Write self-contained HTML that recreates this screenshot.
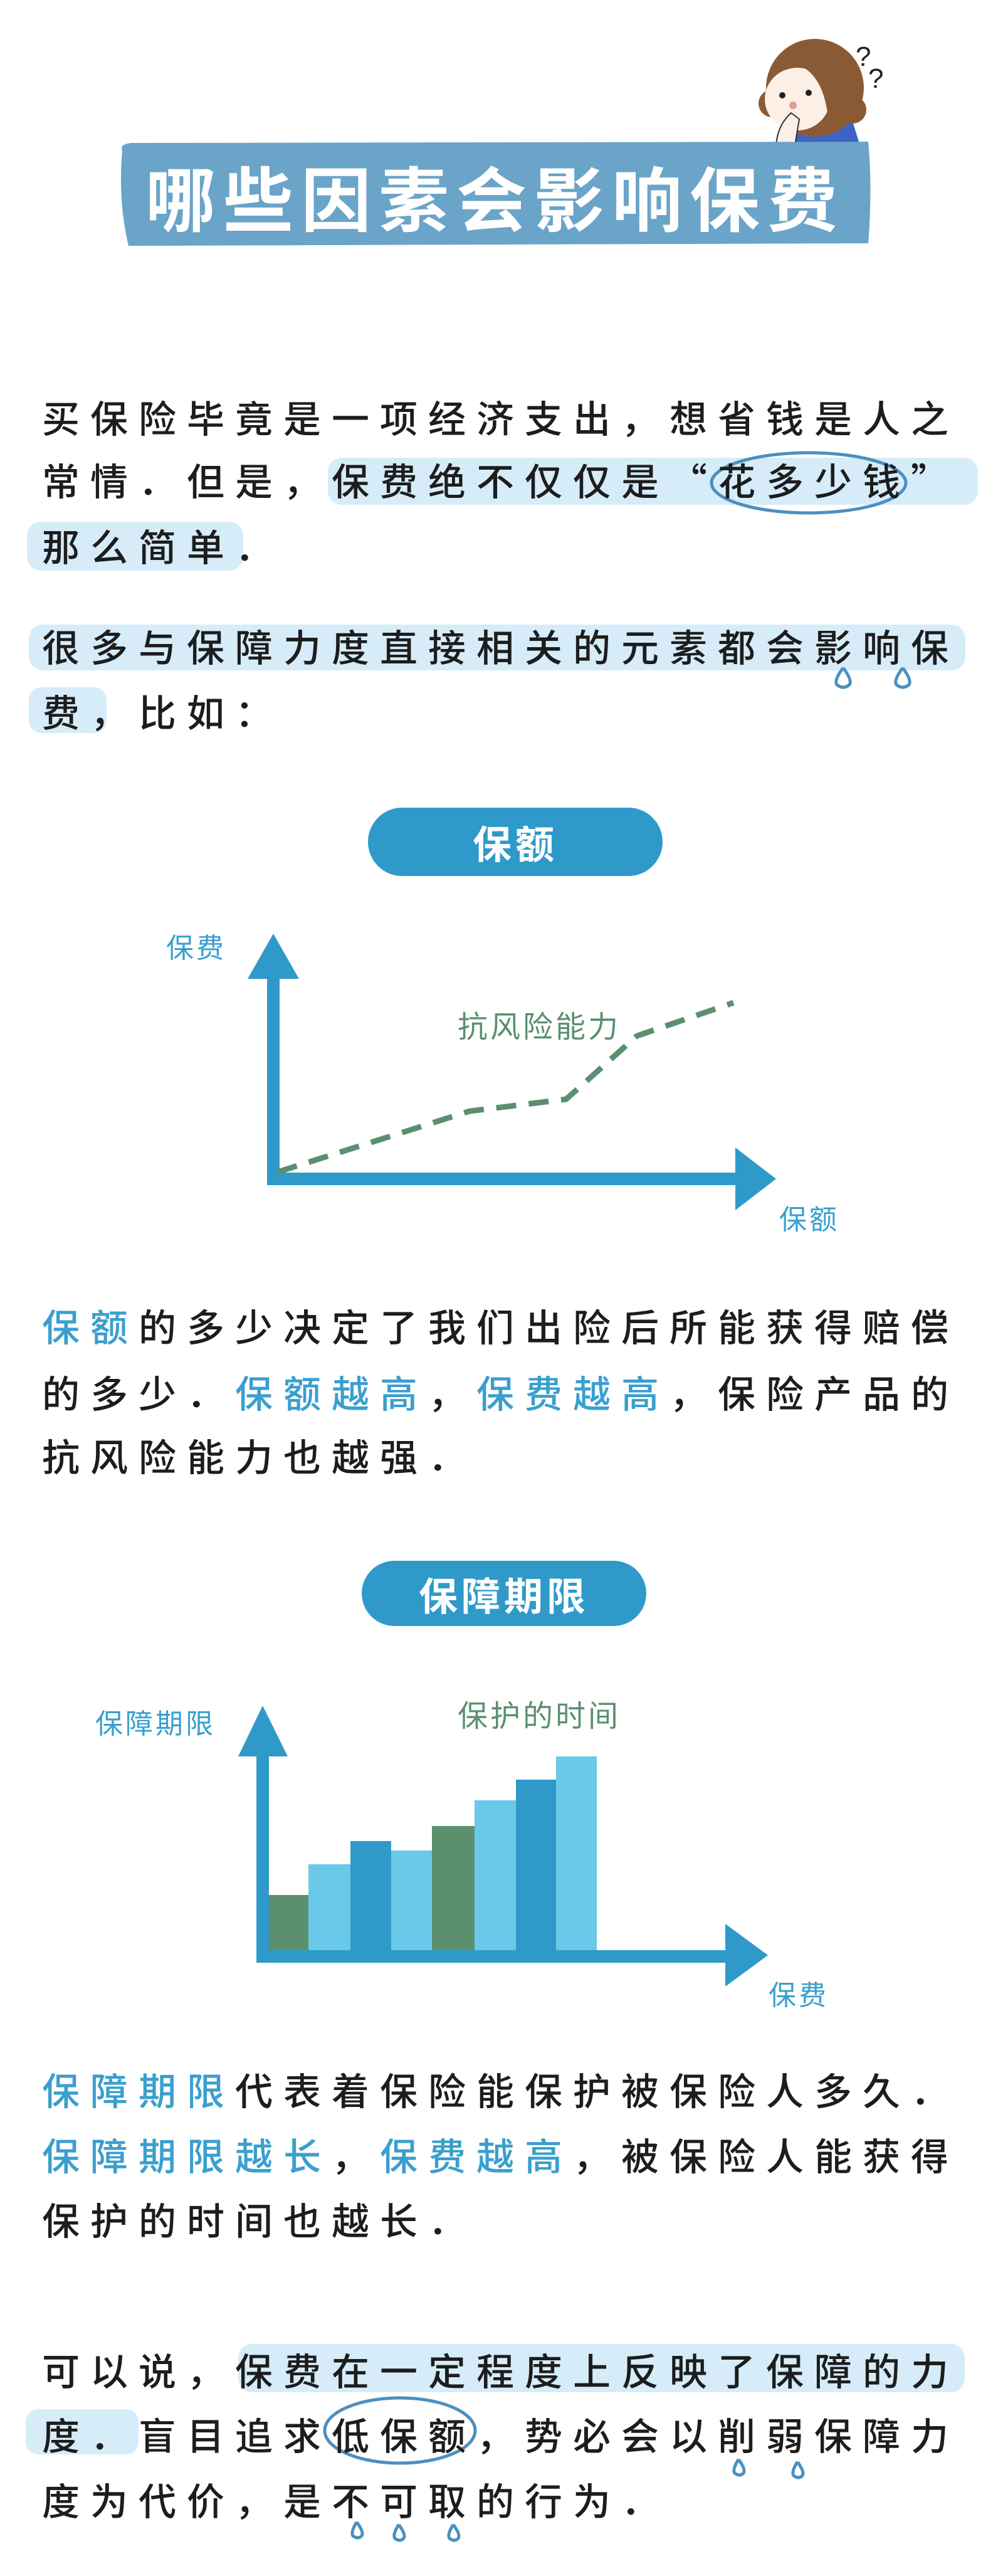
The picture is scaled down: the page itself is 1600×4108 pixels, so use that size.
<!DOCTYPE html>
<html><head><meta charset="utf-8">
<style>
html,body{margin:0;padding:0;background:#fff;}
body{width:1600px;height:4108px;position:relative;overflow:hidden;font-family:"Noto Sans CJK SC","WenQuanYi Zen Hei",sans-serif;}
.t{position:absolute;white-space:nowrap;font-size:60px;line-height:80px;height:80px;letter-spacing:17px;color:#1d1d1d;font-weight:500;}
.b{color:#3a9fce;}
.lab{position:absolute;white-space:nowrap;font-size:44px;line-height:60px;letter-spacing:4px;}
.pill{position:absolute;background:#2f9aca;border-radius:60px;color:#fff;text-align:center;font-size:62px;font-weight:700;letter-spacing:6px;white-space:nowrap;}
svg{position:absolute;left:0;top:0;}
</style></head><body>
<svg width="1600" height="4108" viewBox="0 0 1600 4108">
  <!-- character -->
  <path d="M1245 232 L1260 180 L1355 178 L1372 232 Z" fill="#3d63c4"/>
  <circle cx="1300" cy="140" r="78" fill="#8a5a35"/>
  <circle cx="1232" cy="165" r="22" fill="#8a5a35"/>
  <circle cx="1360" cy="175" r="22" fill="#8a5a35"/>
  <ellipse cx="1272" cy="158" rx="52" ry="50" fill="#fbefe6"/>
  <path d="M1262 85 Q1330 80 1345 150 L1320 180 Q1310 110 1262 100 Z" fill="#8a5a35"/>
  <circle cx="1248" cy="152" r="5" fill="#222"/><circle cx="1290" cy="148" r="5" fill="#222"/>
  <circle cx="1265" cy="168" r="6" fill="#e6998c"/>
  <path d="M1238 232 Q1240 200 1262 180 L1275 190 L1268 232 Z" fill="#fbefe6" stroke="#333" stroke-width="2"/>
  <text x="1365" y="105" font-size="44" font-family="Liberation Sans" fill="#222">?</text>
  <text x="1385" y="140" font-size="44" font-family="Liberation Sans" fill="#222">?</text>
  <!-- banner -->
  <path d="M195 240 Q190 230 210 228 L1385 226 Q1392 300 1385 388 L205 392 Q188 320 195 240 Z" fill="#6aa4c9"/>
  <!-- highlights -->
  <rect x="523" y="730" width="1037" height="75" rx="22" fill="#d6ecf9"/>
  <rect x="43" y="832" width="345" height="78" rx="22" fill="#d6ecf9"/>
  <rect x="46" y="996" width="1494" height="73" rx="22" fill="#d6ecf9"/>
  <rect x="46" y="1096" width="124" height="73" rx="20" fill="#d6ecf9"/>
  <rect x="380" y="3738" width="1159" height="77" rx="22" fill="#d6ecf9"/>
  <rect x="41" y="3842" width="180" height="72" rx="20" fill="#d6ecf9"/>
  <!-- ellipses -->
  <ellipse cx="1290" cy="770" rx="155" ry="48" fill="none" stroke="#4c8fbf" stroke-width="5"/>
  <ellipse cx="638" cy="3876" rx="120" ry="52" fill="none" stroke="#4c8fbf" stroke-width="5"/>
  <!-- teardrops -->
  <g fill="none" stroke="#4c8fbf" stroke-width="5">
    <path d="M1345 1065 Q1330 1085 1335 1092 Q1345 1100 1355 1092 Q1360 1085 1345 1065"/>
    <path d="M1440 1065 Q1425 1085 1430 1092 Q1440 1100 1450 1092 Q1455 1085 1440 1065"/>
    <path d="M1178 3922 Q1168 3938 1172 3944 Q1180 3950 1186 3944 Q1190 3938 1178 3922"/>
    <path d="M1272 3926 Q1262 3942 1266 3948 Q1274 3954 1280 3948 Q1284 3942 1272 3926"/>
    <path d="M569 4022 Q559 4038 563 4044 Q571 4050 577 4044 Q581 4038 569 4022"/>
    <path d="M636 4026 Q626 4042 630 4048 Q638 4054 644 4048 Q648 4042 636 4026"/>
    <path d="M723 4026 Q713 4042 717 4048 Q725 4054 731 4048 Q735 4042 723 4026"/>
  </g>
  <!-- chart 1 -->
  <rect x="426" y="1555" width="20" height="335" fill="#2f9aca"/>
  <polygon points="436,1489 395,1561 477,1561" fill="#2f9aca"/>
  <rect x="426" y="1870" width="750" height="20" fill="#2f9aca"/>
  <polygon points="1238,1880 1173,1830 1173,1930" fill="#2f9aca"/>
  <polyline points="443,1869 749,1772 903,1753 1016,1652 1170,1599" fill="none" stroke="#5a9070" stroke-width="9" stroke-dasharray="32,20"/>
  <!-- chart 2 -->
  <rect x="429" y="3022" width="63" height="90" fill="#5b8f6e"/>
  <rect x="492" y="2973" width="67" height="139" fill="#6ac9e8"/>
  <rect x="559" y="2936" width="65" height="176" fill="#2f9aca"/>
  <rect x="624" y="2951" width="65" height="161" fill="#6ac9e8"/>
  <rect x="689" y="2912" width="68" height="200" fill="#5b8f6e"/>
  <rect x="757" y="2871" width="66" height="241" fill="#6ac9e8"/>
  <rect x="823" y="2838" width="64" height="274" fill="#2f9aca"/>
  <rect x="887" y="2801" width="65" height="311" fill="#6ac9e8"/>
  <rect x="409" y="2795" width="20" height="335" fill="#2f9aca"/>
  <polygon points="419,2720 380,2801 459,2801" fill="#2f9aca"/>
  <rect x="409" y="3110" width="760" height="20" fill="#2f9aca"/>
  <polygon points="1225,3118 1157,3068 1157,3168" fill="#2f9aca"/>
</svg>

<div style="position:absolute;left:195px;top:240px;width:1190px;height:145px;line-height:145px;text-align:center;color:#fff;font-size:112px;font-weight:700;letter-spacing:12px;white-space:nowrap;font-family:'Noto Sans CJK SC',sans-serif;">哪些因素会影响保费</div>

<div class="t" style="left:67px;top:625px;">买保险毕竟是一项经济支出，想省钱是人之</div>
<div class="t" style="left:67px;top:725px;">常情．但是，保费绝不仅仅是“花多少钱”</div>
<div class="t" style="left:67px;top:830px;">那么简单．</div>
<div class="t" style="left:67px;top:990px;">很多与保障力度直接相关的元素都会影响保</div>
<div class="t" style="left:67px;top:1094px;">费，比如：</div>

<div class="pill" style="left:587px;top:1288px;width:470px;height:109px;line-height:109px;">保额</div>
<div class="lab b" style="left:265px;top:1478px;">保费</div>
<div class="lab b" style="left:1243px;top:1911px;">保额</div>
<div class="lab" style="left:730px;top:1603px;color:#5a9070;font-size:48px;">抗风险能力</div>

<div class="t" style="left:67px;top:2074px;"><span class="b">保额</span>的多少决定了我们出险后所能获得赔偿</div>
<div class="t" style="left:67px;top:2180px;">的多少．<span class="b">保额越高</span>，<span class="b">保费越高</span>，保险产品的</div>
<div class="t" style="left:67px;top:2281px;">抗风险能力也越强．</div>

<div class="pill" style="left:577px;top:2489px;width:454px;height:104px;line-height:104px;">保障期限</div>
<div class="lab b" style="left:152px;top:2715px;">保障期限</div>
<div class="lab" style="left:730px;top:2702px;color:#5a9070;font-size:48px;">保护的时间</div>
<div class="lab b" style="left:1226px;top:3148px;">保费</div>

<div class="t" style="left:67px;top:3292px;"><span class="b">保障期限</span>代表着保险能保护被保险人多久．</div>
<div class="t" style="left:67px;top:3396px;"><span class="b">保障期限越长</span>，<span class="b">保费越高</span>，被保险人能获得</div>
<div class="t" style="left:67px;top:3499px;">保护的时间也越长．</div>

<div class="t" style="left:67px;top:3739px;">可以说，保费在一定程度上反映了保障的力</div>
<div class="t" style="left:67px;top:3842px;">度．盲目追求低保额，势必会以削弱保障力</div>
<div class="t" style="left:67px;top:3946px;">度为代价，是不可取的行为．</div>
</body></html>
